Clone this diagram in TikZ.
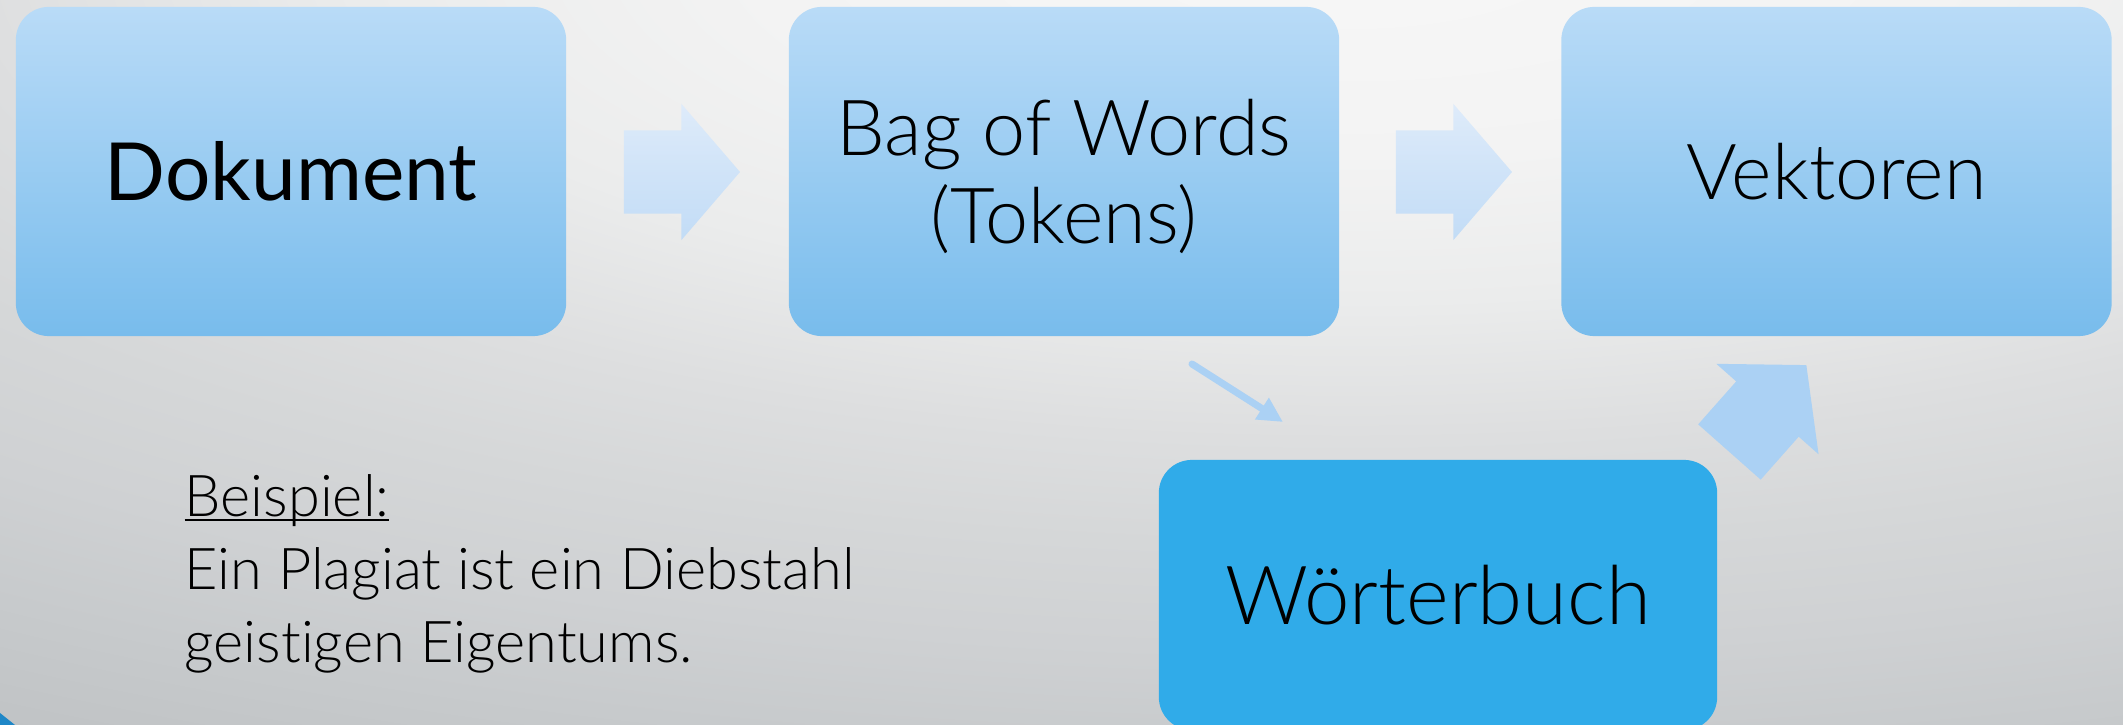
\documentclass[tikz,border=0pt]{standalone}
\usepackage{fontspec}
\usetikzlibrary{shapes.arrows,arrows.meta}
\IfFontExistsTF{Lato Light}{\newfontfamily\lightface{Lato Light}[Ligatures=NoCommon]}{\newfontfamily\lightface{Lato}[Ligatures=NoCommon]}
\newfontfamily\regface{Lato}

\definecolor{bg0}{HTML}{F7F7F7}
\definecolor{bg1}{HTML}{F3F3F3}
\definecolor{bg2}{HTML}{EBECEC}
\definecolor{bg3}{HTML}{DDDEDF}
\definecolor{bg4}{HTML}{D5D7D8}
\definecolor{bg5}{HTML}{CFD1D3}
\definecolor{bg6}{HTML}{C7CACC}
\definecolor{bg7}{HTML}{C0C3C5}
\definecolor{bg8}{HTML}{BDC0C3}
\definecolor{boxtop}{HTML}{B9DBF7}
\definecolor{boxbot}{HTML}{78BCEC}
\definecolor{dictblue}{HTML}{30ABE9}
\definecolor{arrtop}{HTML}{DEEBFA}
\definecolor{arrbot}{HTML}{C2DCF6}
\definecolor{arrsolid}{HTML}{ABD1F4}
\definecolor{cornerblue}{HTML}{1F87C7}

% the path's bounding box covers the inner 50bp square of the shading
\pgfdeclareradialshading{slidebg}{\pgfpoint{0bp}{0bp}}{color(0bp)=(bg0); color(5.35bp)=(bg1);
  color(8.95bp)=(bg2); color(12.5bp)=(bg3); color(15.2bp)=(bg4); color(17.85bp)=(bg5);
  color(20.5bp)=(bg6); color(23.2bp)=(bg7); color(25bp)=(bg8); color(50bp)=(bg8)}

% underline with a fixed rule just below the baseline
\newcommand\ulword[1]{\setbox0\hbox{#1}\rlap{\rule[-1.3pt]{\wd0}{0.6pt}}\box0}

\tikzset{
  stepbox/.style={rounded corners=0.33cm, minimum width=5.5cm, minimum height=3.29cm,
    top color=boxtop, bottom color=boxbot, draw=none, align=center, inner sep=0pt,
    font=\lightface\fontsize{22}{25}\selectfont},
  blockarrow/.style={single arrow, draw=none, inner xsep=0pt, inner ysep=0.41cm,
    single arrow head extend=0.265cm, single arrow tip angle=98.6, minimum height=1.16cm},
  shadedarrow/.style={blockarrow, top color=arrtop, bottom color=arrbot},
  solidarrow/.style={blockarrow, fill=arrsolid},
  thinarrow/.style={draw=arrsolid, line width=0.07cm, line cap=round,
    -{Triangle[length=0.25cm,width=0.24cm]}},
}

\begin{document}
\begin{tikzpicture}[x=0.01cm, y=-0.01cm]
  \useasboundingbox (0,0) rectangle (2123,725);

  % slide background
  \begin{scope}
    \clip (0,0) rectangle (2123,725);
    \fill[bg8] (0,0) rectangle (2123,725);
    \shade[shading=slidebg] (1350,-50) ellipse [x radius=2800, y radius=980];
    \fill[cornerblue] (0,713) -- (15,725) -- (0,725) -- cycle;
  \end{scope}

  % process steps
  \node[stepbox, font=\regface\fontsize{22.8}{25}\selectfont] (dok) at (291,171.5) {Dokument};
  \node[stepbox, text depth=0pt] (bow) at (1064,171.5) {Bag of Words\\(Tokens)};
  \node[stepbox] (vek) at (1836.5,171.5) {Vektoren};
  \node[stepbox, top color=dictblue, bottom color=dictblue, minimum width=5.58cm,
        minimum height=2.7cm, font=\lightface\fontsize{23.2}{25}\selectfont] (wb) at (1438,595) {Wörterbuch};

  % arrows between the steps
  \node[shadedarrow] (a1) at (664,172) {};
  \node[shadedarrow] (a2) at (1436,172) {};
  \coordinate (s1) at (1192,364);
  \coordinate (s2) at (1283,422);
  \draw[thinarrow] (s1) -- (s2);
  \node[solidarrow, rotate=48.5] (a3) at (1756,422) {};

  % example sentence
  \node[anchor=north west, align=left, inner sep=0pt,
        font=\lightface\fontsize{16.4}{20.8}\selectfont] (bsp) at (184,474)
    {\ulword{Beispiel:}\\Ein Plagiat ist ein Diebstahl\\geistigen Eigentums.};
\end{tikzpicture}
\end{document}
